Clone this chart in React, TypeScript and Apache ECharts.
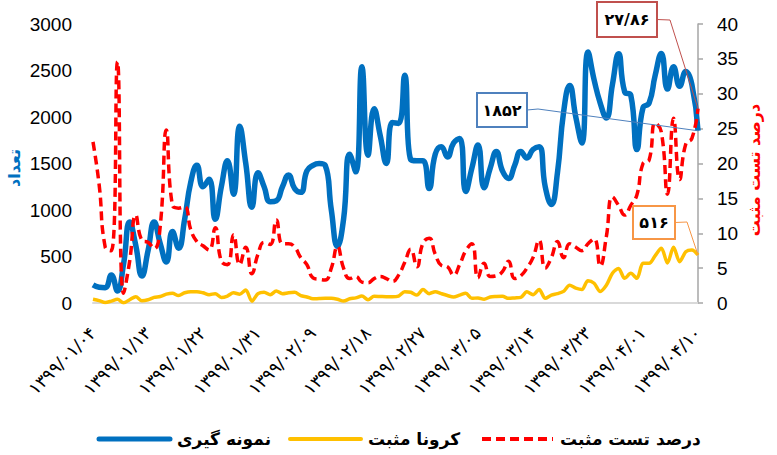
import React, { useEffect, useRef } from "react";
import * as echarts from "echarts";

// ---- data ----
const sampling = [
  194, 170, 165, 300, 130, 420, 870, 620, 290, 560,
  870, 640, 440, 770, 590, 900, 1300, 1480, 1250, 1330,
  900, 1250, 1530, 1170, 1900, 1500, 1030, 1400, 1250, 1090,
  1100, 1250, 1376, 1230, 1190, 1420, 1480, 1500, 1480, 1000,
  610, 900, 1600, 1410, 2540, 1590, 2090, 1800, 1500, 1940,
  1930, 2450, 1540, 1530, 1530, 1230, 1600, 1680, 1570, 1720,
  1770, 1200, 1450, 1700, 1240, 1450, 1630, 1420, 1340, 1480,
  1630, 1560, 1650, 1680, 1250, 1060, 1400, 2050, 2340, 2000,
  1720, 2700, 2400, 2150, 1990, 2350, 2680, 2270, 2236, 1650,
  2100, 2150, 2450, 2684, 2300, 2540, 2330, 2490, 2350, 1852,
];

const positive = [
  40, 25, 5, 20, 40, 2, 35, 68, 25, 35,
  60, 70, 95, 105, 80, 110, 122, 122, 110, 90,
  100, 60, 75, 110, 95, 140, 20, 100, 115, 88,
  130, 100, 110, 115, 80, 65, 45, 48, 50, 50,
  40, 21, 45, 55, 75, 35, 72, 70, 68, 68,
  75, 120, 115, 85, 145, 100, 122, 100, 80, 65,
  85, 104, 50, 55, 40, 65, 70, 72, 50, 55,
  60, 120, 90, 145, 50, 85, 100, 125, 190, 160,
  145, 240, 212, 125, 190, 320, 370, 265, 319, 265,
  427, 427, 510, 588, 430, 600, 444, 550, 570, 516,
];

const percent = [
  23.1, 17, 8, 7.5, 34.6, 1.4, 6, 12.6, 9, 8.7,
  7.8, 11, 24.8, 14, 13.6, 13.8, 10.5, 8.8, 8.2, 7.6,
  10.8, 6, 5.5, 9.8, 5.5, 8, 4.2, 7, 8.7, 8.4,
  11.9, 8.5, 8.5, 8, 6.5, 5.5, 3.6, 3.4, 3.3, 5,
  8.1, 5, 3.5, 3.8, 3, 2.9, 3.5, 3.8, 3.5, 3.1,
  4, 5.8, 7.7, 5.2, 8.6, 9.3, 7, 5.4, 5.2, 4,
  5.5, 7.5, 8.5, 3.6, 5.7, 3.8, 3.9, 4.5, 6, 3.5,
  3.9, 5, 6.5, 9, 5, 6.5, 8.8, 6.5, 8.5, 8,
  7.5, 8.5, 9.2, 5.3, 9.5, 15.2, 14, 12.6, 14, 15.5,
  20, 20.5, 25.8, 24.5, 15.6, 26.5, 17.7, 22.8, 23.6, 27.86,
];

const seriesNames = ["نمونه گیری", "کرونا مثبت", "درصد تست مثبت"];
const seriesColors = ["#0070C0", "#FFC000", "#FF0000"];
const leftTicks = { min: 0, max: 3000, interval: 500 };
const rightTicks = { min: 0, max: 40, interval: 5 };

// Persian calendar day labels, 1399/01/04 onward (first 6 months have 31 days)
const startMonth = 1;
const startDay = 4;
const dayCount = sampling.length;

const faDigits = (s: string) =>
  s.replace(/[0-9]/g, (d) => "۰۱۲۳۴۵۶۷۸۹"[Number(d)]);

function buildCategories(): string[] {
  const out: string[] = [];
  let m = startMonth;
  let d = startDay;
  for (let i = 0; i < dayCount; i++) {
    out.push(
      faDigits(`1399/${String(m).padStart(2, "0")}/${String(d).padStart(2, "0")}`)
    );
    d++;
    if (d > 31) {
      d = 1;
      m++;
    }
  }
  return out;
}
const categories = buildCategories();

const FA_FONT = "DejaVu Sans";
const NUM_FONT = "Liberation Sans";

export default function App() {
  const ref = useRef<HTMLDivElement>(null);

  useEffect(() => {
    if (!ref.current) return;
    const chart = echarts.init(ref.current, undefined, { renderer: "svg" });
    const lineStyles: any[] = [
      { color: seriesColors[0], width: 5.5 },
      { color: seriesColors[1], width: 3.5 },
      { color: seriesColors[2], width: 3.5, type: [9, 5] },
    ];
    const option: any = {
      animation: false,
      backgroundColor: "#ffffff",
      grid: { left: 93, right: 79, top: 24, bottom: 152, containLabel: false },
      legend: { show: false },
      xAxis: {
        type: "category",
        data: categories,
        boundaryGap: false,
        axisLine: { show: true, lineStyle: { color: "#D9D9D9", width: 2 } },
        axisTick: { show: false },
        axisLabel: {
          interval: 8,
          rotate: 45,
          margin: 27,
          fontFamily: FA_FONT,
          fontSize: 17.5,
          color: "#000",
        },
        splitLine: { show: false },
      },
      yAxis: [
        {
          type: "value",
          ...leftTicks,
          axisLine: { show: false },
          axisTick: { show: false },
          splitLine: { show: false },
          axisLabel: {
            margin: 21,
            fontFamily: NUM_FONT,
            fontSize: 19,
            color: "#000",
            formatter: (v: number) => String(v),
          },
        },
        {
          type: "value",
          position: "right",
          ...rightTicks,
          axisLine: { show: true, lineStyle: { color: "#A6A6A6", width: 1.5 } },
          axisTick: { show: true, length: 5, lineStyle: { color: "#A6A6A6", width: 1.5 } },
          splitLine: { show: false },
          axisLabel: {
            margin: 19,
            fontFamily: NUM_FONT,
            fontSize: 19,
            color: "#000",
            formatter: (v: number) => String(v),
          },
        },
      ],
      series: [
        {
          name: seriesNames[0],
          type: "line",
          data: sampling,
          yAxisIndex: 0,
          smooth: 0.5,
          symbol: "none",
          lineStyle: lineStyles[0],
          itemStyle: { color: seriesColors[0] },
        },
        {
          name: seriesNames[1],
          type: "line",
          data: positive,
          yAxisIndex: 0,
          smooth: 0.3,
          symbol: "none",
          lineStyle: lineStyles[1],
          itemStyle: { color: seriesColors[1] },
        },
        {
          name: seriesNames[2],
          type: "line",
          data: percent,
          yAxisIndex: 1,
          smooth: 0.5,
          symbol: "none",
          lineStyle: lineStyles[2],
          itemStyle: { color: seriesColors[2] },
        },
      ],
    };
    chart.setOption(option);

    const last = dayCount - 1;
    const pB = chart.convertToPixel({ seriesIndex: 0 }, [last, sampling[last]]) as number[];
    const pY = chart.convertToPixel({ seriesIndex: 1 }, [last, positive[last]]) as number[];
    const pR = chart.convertToPixel({ seriesIndex: 2 }, [last, percent[last]]) as number[];

    const callout = (
      box: { x: number; y: number; w: number; h: number },
      text: string,
      color: string,
      elbow: number[],
      target: number[]
    ) => [
      {
        type: "polyline",
        z: 50,
        shape: {
          points: [[box.x + box.w, box.y + box.h / 2], elbow, target],
        },
        style: { stroke: color, lineWidth: 1, fill: null },
      },
      {
        type: "rect",
        z: 51,
        shape: { x: box.x, y: box.y, width: box.w, height: box.h },
        style: { fill: "#fff", stroke: color, lineWidth: 2 },
      },
      {
        type: "text",
        z: 52,
        x: box.x + box.w / 2,
        y: box.y + box.h / 2,
        style: {
          text,
          fill: "#000",
          font: `bold 16px "${FA_FONT}"`,
          textAlign: "center",
          textVerticalAlign: "middle",
        },
      },
    ];

    const fmt = (v: number) => faDigits(String(v).replace(".", "/"));

    // legend (drawn manually so the icons are plain line samples)
    const legendX = [99, 290, 482];
    const legendY = 439;
    const legendEls: any[] = [];
    seriesNames.forEach((name, i) => {
      const ls = lineStyles[i];
      legendEls.push({
        type: "line",
        shape: { x1: legendX[i], y1: legendY, x2: legendX[i] + 71, y2: legendY },
        style: {
          stroke: ls.color,
          lineWidth: i === 0 ? 5 : 4,
          lineDash: ls.type ? ls.type : null,
          lineCap: i === 2 ? "butt" : "round",
        },
      });
      legendEls.push({
        type: "text",
        x: legendX[i] + 78,
        y: legendY,
        style: {
          text: name,
          fill: "#000",
          font: `bold 17px "${FA_FONT}"`,
          textAlign: "left",
          textVerticalAlign: "middle",
        },
      });
    });

    chart.setOption({
      graphic: [
        ...callout({ x: 597, y: 2, w: 60, h: 35 }, fmt(percent[last]), "#C0504D", [670, 20], pR),
        ...callout({ x: 477, y: 93, w: 50, h: 34 }, fmt(sampling[last]), "#4F81BD", [538, 109], pB),
        ...callout({ x: 633, y: 206, w: 42, h: 33 }, fmt(positive[last]), "#F79646", [687, 222], pY),
        ...legendEls,
        {
          type: "text",
          x: 14,
          y: 168,
          rotation: Math.PI / 2,
          style: {
            text: "تعداد",
            fill: "#0070C0",
            font: `bold 16px "${FA_FONT}"`,
            textAlign: "center",
            textVerticalAlign: "middle",
          },
        },
        {
          type: "text",
          x: 754,
          y: 170,
          rotation: Math.PI / 2,
          style: {
            text: "درصد تست مثبت",
            fill: "#FF0000",
            font: `bold 16px "${FA_FONT}"`,
            textAlign: "center",
            textVerticalAlign: "middle",
          },
        },
      ],
    });

    return () => chart.dispose();
  }, []);

  return <div ref={ref} style={{ width: 777, height: 455, position: "absolute", left: 0, top: 0 }} />;
}
